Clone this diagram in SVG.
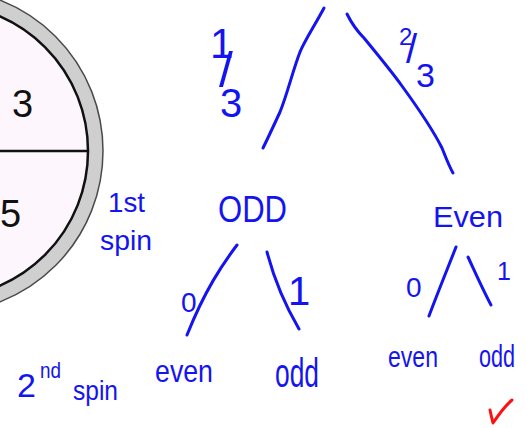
<svg xmlns="http://www.w3.org/2000/svg" width="527" height="428" viewBox="0 0 527 428">
<style>
  .ink { fill: none; stroke: #1414f0; stroke-width: 3; stroke-linecap: round; stroke-linejoin: round; }
  .hw { fill: #1414f0; font-family: "Liberation Sans", "DejaVu Sans", sans-serif; }
  .num { fill: #111; font-family: "Liberation Sans", Arial, sans-serif; font-size: 38px; }
</style>
<rect width="527" height="428" fill="#ffffff"/>
<g id="spinner">
  <circle cx="-59" cy="151" r="154.5" fill="none" stroke="#cfcfcf" stroke-width="15"/>
  <circle cx="-59" cy="151" r="162" fill="none" stroke="#4a4a4a" stroke-width="1.5"/>
  <circle cx="-59" cy="151" r="147" fill="#fdf7fd" stroke="#111" stroke-width="2.5"/>
  <line x1="0" y1="151" x2="87" y2="151" stroke="#111" stroke-width="2.5"/>
  <text class="num" x="12" y="117">3</text>
  <text class="num" x="0" y="227">5</text>
</g>
<g id="connectors">
  <path class="ink" d="M324,8 C315,25 305,40 300,52 C293,70 287,95 280,112 C274,125 268,138 263,148"/>
  <path class="ink" d="M347,14 C352,24 358,32 364,38 C378,55 392,72 402,86 C418,108 432,128 442,148 C446,158 449,166 453,173"/>
  <path class="ink" d="M237,245 C222,265 205,290 187,335"/>
  <path class="ink" d="M267,252 C273,275 285,305 299,329"/>
  <path class="ink" d="M456,247 C447,270 438,292 429,316"/>
  <path class="ink" d="M468,257 C475,272 483,290 491,305"/>
</g>
<g id="prob-left">
  <text class="hw" font-size="42"><tspan x="210" y="58">1</tspan><tspan x="219" y="87" font-size="50">/</tspan><tspan x="220" y="117" font-size="40">3</tspan></text>
</g>
<g id="prob-right">
  <text class="hw" font-size="24"><tspan x="399" y="45">2</tspan><tspan x="406" y="63" font-size="40">/</tspan><tspan x="416" y="87" font-size="34">3</tspan></text>
</g>
<g id="label-1st-spin">
  <text class="hw" x="108" y="212" font-size="28" textLength="37" lengthAdjust="spacingAndGlyphs">1st</text>
  <text class="hw" x="100" y="250" font-size="28" textLength="52" lengthAdjust="spacingAndGlyphs">spin</text>
</g>
<g id="node-odd">
  <text class="hw" x="218" y="222" font-size="36" textLength="69" lengthAdjust="spacingAndGlyphs">ODD</text>
</g>
<g id="node-even">
  <text class="hw" x="433" y="227" font-size="30" textLength="70" lengthAdjust="spacingAndGlyphs">Even</text>
</g>
<g id="branch-labels">
  <text class="hw" x="181" y="312" font-size="28">0</text>
  <text class="hw" x="288" y="305" font-size="40">1</text>
  <text class="hw" x="406" y="297" font-size="28">0</text>
  <text class="hw" x="497" y="280" font-size="25">1</text>
</g>
<g id="label-2nd-spin">
  <text class="hw" x="17" y="397" font-size="34">2</text>
  <text class="hw" x="40" y="378" font-size="22" textLength="21" lengthAdjust="spacingAndGlyphs">nd</text>
  <text class="hw" x="73" y="400" font-size="28" textLength="45" lengthAdjust="spacingAndGlyphs">spin</text>
</g>
<g id="leaf-odd-even">
  <text class="hw" x="155" y="382" font-size="32" textLength="58" lengthAdjust="spacingAndGlyphs">even</text>
</g>
<g id="leaf-odd-odd">
  <text class="hw" x="275" y="387" font-size="40" textLength="44" lengthAdjust="spacingAndGlyphs">odd</text>
</g>
<g id="leaf-even-even">
  <text class="hw" x="388" y="367" font-size="30" textLength="50" lengthAdjust="spacingAndGlyphs">even</text>
</g>
<g id="leaf-even-odd">
  <text class="hw" x="479" y="367" font-size="31" textLength="36" lengthAdjust="spacingAndGlyphs">odd</text>
  <path d="M490,410 C491,415 492,419 493,423 C499,414 505,406 512,400" fill="none" stroke="#ff1010" stroke-width="3" stroke-linecap="round" stroke-linejoin="round"/>
</g>
</svg>
